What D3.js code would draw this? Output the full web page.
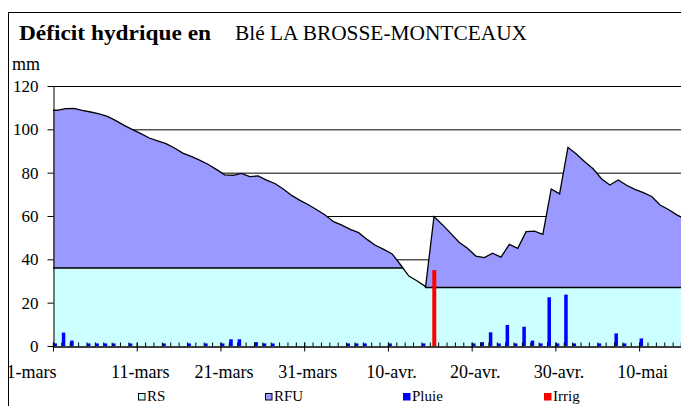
<!DOCTYPE html>
<html>
<head>
<meta charset="utf-8">
<script src="https://cdn.jsdelivr.net/npm/d3@7"></script>
<style>
  body { margin: 0; background: #fff; }
  svg { display: block; font-family: "Liberation Serif", "Times New Roman", serif; }
</style>
</head>
<body>
<svg id="chart" width="681" height="406"></svg>
<script>
// réserve totale (mm), un point par jour depuis le 1-mars
const reserve = [
  108.8, 109.6, 109.7, 108.8, 108.0, 107.1, 106.0, 104.0, 101.8, 99.9,
  98.0, 96.0, 94.7, 93.4, 91.4, 89.0, 87.5, 85.8, 83.9, 81.5,
  79.0, 78.8, 79.7, 78.2, 78.5, 76.6, 75.0, 72.5, 69.5, 67.2,
  65.2, 62.9, 60.5, 57.4, 55.8, 53.8, 52.3, 49.2, 46.5, 44.6,
  42.5, 37.5, 32.3, 30.0, 27.4, 59.7, 56.0, 52.0, 47.9, 45.1,
  41.5, 40.8, 42.8, 41.0, 46.9, 45.1, 52.8, 53.0, 51.5, 72.5,
  70.2, 91.7, 88.6, 85.0, 81.8, 77.2, 74.3, 76.6, 74.2, 72.3,
  70.8, 69.0, 65.1, 63.0, 60.5, 58.5
];
// réserve de survie (mm)
const rs = [
  36, 36, 36, 36, 36, 36, 36, 36, 36, 36,
  36, 36, 36, 36, 36, 36, 36, 36, 36, 36,
  36, 36, 36, 36, 36, 36, 36, 36, 36, 36,
  36, 36, 36, 36, 36, 36, 36, 36, 36, 36,
  36, 36, 36, 36, 27, 27, 27, 27, 27, 27,
  27, 27, 27, 27, 27, 27, 27, 27, 27, 27,
  27, 27, 27, 27, 27, 27, 27, 27, 27, 27,
  27, 27, 27, 27, 27, 27
];
const pluie = [
  1.2, 6.2, 2.5, 0, 1.2, 1.2, 1.2, 1.2, 0, 1.2,
  0, 0, 0, 1.2, 0, 0, 1.2, 0, 1.2, 0,
  1.2, 3.1, 3.1, 0, 1.8, 1.2, 1.2, 0, 0, 0,
  0, 0, 0, 0, 0, 1.2, 1.2, 1.2, 0, 0,
  1.2, 0, 0, 0, 1.2, 0, 0, 0, 0, 0,
  1.2, 1.8, 6.3, 1.2, 9.7, 1.2, 8.9, 2.5, 1.2, 22.5,
  1.2, 23.7, 1.2, 0, 0, 1.2, 0, 5.8, 1.2, 0,
  3.5, 0, 0, 0, 0, 0
];
const irrig = [{ day: 45, mm: 35 }];

const tickDays = [0, 10, 20, 30, 40, 50, 60, 70];
const tickLabels = ["1-mars", "11-mars", "21-mars", "31-mars", "10-avr.", "20-avr.", "30-avr.", "10-mai"];
const yTicks = [0, 20, 40, 60, 80, 100, 120];
const gridValues = [40, 60, 80, 100, 120];

const legendItems = [
  { name: "RS", color: "#CCFFFF", border: true, x: 138 },
  { name: "RFU", color: "#9999FF", border: true, x: 265 },
  { name: "Pluie", color: "#0000FF", border: false, x: 403 },
  { name: "Irrig", color: "#FF0000", border: false, x: 544 }
];

const serif = '"Liberation Serif", "Times New Roman", serif';
const svg = d3.select("#chart");
const plotLeft = 53, plotRight = 681, plotTop = 86, plotBottom = 346;

const x = d3.scaleLinear().domain([0, 75]).range([plotLeft, plotRight]);
const y = d3.scaleLinear().domain([0, 120]).range([plotBottom, plotTop]);

// cadre extérieur
svg.append("rect")
  .attr("x", 8.5).attr("y", 12.5)
  .attr("width", 720).attr("height", 420)
  .attr("fill", "#fff").attr("stroke", "#000").attr("stroke-width", 1);

// titre
svg.append("text")
  .attr("x", 19).attr("y", 40)
  .attr("font-size", 22).attr("font-weight", "bold")
  .attr("textLength", 192).attr("lengthAdjust", "spacingAndGlyphs")
  .text("Déficit hydrique en");
svg.append("text")
  .attr("x", 235).attr("y", 40)
  .attr("font-size", 21)
  .attr("textLength", 292).attr("lengthAdjust", "spacingAndGlyphs")
  .text("Blé LA BROSSE-MONTCEAUX");
svg.append("text")
  .attr("x", 12).attr("y", 70)
  .attr("font-size", 18)
  .text("mm");

// grille
svg.append("g")
  .selectAll("line")
  .data(gridValues)
  .join("line")
  .attr("x1", plotLeft).attr("x2", plotRight)
  .attr("y1", d => y(d) + 0.5).attr("y2", d => y(d) + 0.5)
  .attr("stroke", "#000").attr("stroke-width", 1);

const pts = arr => [{ d: 0, v: arr[0] }].concat(arr.map((v, i) => ({ d: i + 0.5, v })));

const area = d3.area().x(p => x(p.d)).y0(y(0)).y1(p => y(p.v));
const line = d3.line().x(p => x(p.d)).y(p => y(p.v));

svg.append("clipPath").attr("id", "underTotal")
  .append("path").attr("d", area(pts(reserve)));

// RFU (réserve totale)
svg.append("path")
  .attr("d", area(pts(reserve)))
  .attr("fill", "#9999FF");

// RS
svg.append("path")
  .attr("d", area(pts(rs)))
  .attr("clip-path", "url(#underTotal)")
  .attr("fill", "#CCFFFF");
svg.append("path")
  .attr("d", line(pts(rs)))
  .attr("clip-path", "url(#underTotal)")
  .attr("fill", "none").attr("stroke", "#000").attr("stroke-width", 1.3);

svg.append("path")
  .attr("d", line(pts(reserve)))
  .attr("fill", "none").attr("stroke", "#000").attr("stroke-width", 1.3);

// pluie
svg.append("g")
  .selectAll("rect")
  .data(pluie.map((v, i) => ({ i, v })).filter(p => p.v > 0))
  .join("rect")
  .attr("x", p => x(p.i + 0.5) - 3.75)
  .attr("width", 3.5)
  .attr("y", p => y(p.v))
  .attr("height", p => y(0) - y(p.v))
  .attr("fill", "#0000FF");

// irrigation
svg.append("g")
  .selectAll("rect")
  .data(irrig)
  .join("rect")
  .attr("x", p => x(p.day + 0.5) - 1.7)
  .attr("width", 4)
  .attr("y", p => y(p.mm))
  .attr("height", p => y(0) - y(p.mm))
  .attr("fill", "#FF0000");

// axe Y
const yAxis = svg.append("g")
  .attr("transform", `translate(${plotLeft + 0.5},0)`)
  .call(d3.axisLeft(y).tickValues(yTicks).tickSize(6).tickSizeOuter(0).tickPadding(9))
  .attr("font-family", serif).attr("font-size", 17);
yAxis.selectAll("text").attr("fill", "#000");
yAxis.selectAll("line, path").attr("stroke", "#000");

// axe X: graduations journalières
const minor = svg.append("g")
  .attr("transform", `translate(0,${plotBottom + 0.5})`)
  .call(d3.axisTop(x).tickValues(d3.range(0, 76)).tickSize(4).tickFormat(""));
minor.selectAll("line, path").attr("stroke", "#000");
minor.select(".domain").attr("stroke-width", 1.5);

const major = svg.append("g")
  .attr("transform", `translate(0,${plotBottom + 0.5})`)
  .call(d3.axisBottom(x).tickValues(tickDays).tickSize(5).tickSizeOuter(0)
    .tickFormat((d, i) => tickLabels[i]).tickPadding(14))
  .attr("font-family", serif).attr("font-size", 18);
major.select(".domain").remove();
major.selectAll("line").attr("stroke", "#000").attr("y1", -4);
major.selectAll("text")
  .attr("fill", "#000")
  .attr("dx", (d, i) => i === 0 ? -22 : 3);

// légende
const leg = svg.append("g").selectAll("g").data(legendItems).join("g")
  .attr("transform", d => `translate(${d.x},393)`);
leg.append("rect")
  .attr("x", 0.5).attr("y", 0.5).attr("width", 6.5).attr("height", 6.5)
  .attr("fill", d => d.color)
  .attr("stroke", d => d.border ? "#000" : d.color)
  .attr("stroke-width", 1);
leg.append("text")
  .attr("x", 9).attr("y", 8)
  .attr("font-size", 15)
  .text(d => d.name);
</script>
</body>
</html>
